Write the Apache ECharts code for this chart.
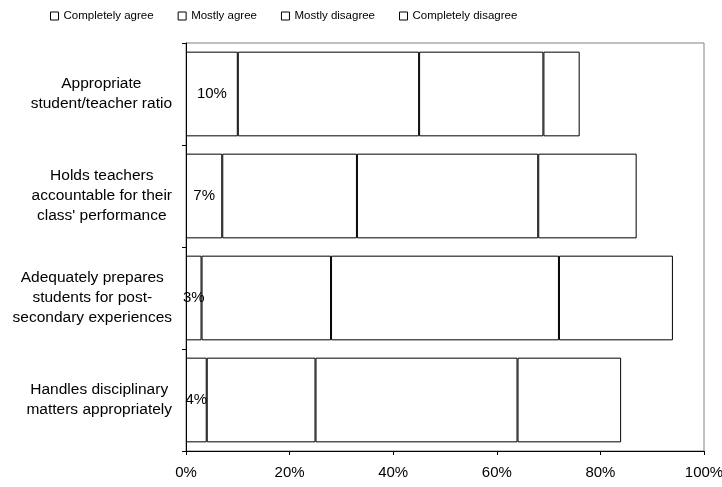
<!DOCTYPE html>
<html><head><meta charset="utf-8">
<script src="https://cdn.jsdelivr.net/npm/echarts@6/dist/echarts.min.js"></script>
<style>html,body{margin:0;padding:0;background:#fff}#c{width:722px;height:487px}</style>
</head><body><div id="c"></div>
<script>
const categories = [
  "Appropriate\nstudent/teacher ratio",
  "Holds teachers\naccountable for their\nclass' performance",
  "Adequately prepares\nstudents for post-\nsecondary experiences",
  "Handles disciplinary\nmatters appropriately"
];
const seriesNames = ["Completely agree", "Mostly agree", "Mostly disagree", "Completely disagree"];
const completelyAgree = [10, 7, 3, 4];
const mostlyAgree = [35, 26, 25, 21];
const mostlyDisagree = [24, 35, 44, 39];
const completelyDisagree = [7, 19, 22, 20];
const xTicks = [0, 20, 40, 60, 80, 100];

const FONT = "'Liberation Sans', Arial, sans-serif";
const seriesData = [completelyAgree, mostlyAgree, mostlyDisagree, completelyDisagree];

const chart = echarts.init(document.getElementById('c'), null, {renderer: 'canvas'});
chart.setOption({
  animation: false,
  backgroundColor: '#fff',
  textStyle: {fontFamily: FONT, color: '#000'},
  legend: {
    left: 50, top: 10, padding: 0,
    itemWidth: 8, itemHeight: 8, itemGap: 24,
    icon: 'rect',
    itemStyle: {color: '#fff', borderColor: '#000', borderWidth: 1},
    textStyle: {fontFamily: FONT, fontSize: 11.5, color: '#000'},
    data: seriesNames
  },
  grid: {
    left: 186, right: 18, top: 43, bottom: 36,
    show: true, borderColor: '#808080', borderWidth: 1, backgroundColor: 'transparent',
    containLabel: false,
    outerBoundsMode: 'none'
  },
  xAxis: {
    type: 'value',
    min: xTicks[0], max: xTicks[xTicks.length - 1], interval: xTicks[1] - xTicks[0],
    axisLine: {show: true, lineStyle: {color: '#000', width: 1}},
    axisTick: {show: true, length: 4, lineStyle: {color: '#000'}},
    splitLine: {show: false},
    axisLabel: {formatter: '{value}%', fontSize: 15, color: '#000', fontFamily: FONT, margin: 14}
  },
  yAxis: {
    type: 'category',
    inverse: true,
    data: categories,
    axisLine: {show: true, lineStyle: {color: '#000', width: 1}},
    axisTick: {show: true, length: 4, lineStyle: {color: '#000'}},
    axisLabel: {
      margin: 14,
      align: 'right',
      formatter: function (v) {
        return v.split('\n').map(function (s) { return '{c|' + s + '}'; }).join('\n');
      },
      rich: {c: {align: 'center', fontSize: 15.5, lineHeight: 20, color: '#000', fontFamily: FONT}}
    }
  },
  series: seriesNames.map(function (name, i) {
    return {
      name: name,
      type: 'bar',
      stack: 'total',
      barCategoryGap: '17%',
      data: seriesData[i],
      itemStyle: {color: '#fff', borderColor: '#000', borderWidth: 1},
      label: i === 0 ? {
        show: true, position: 'inside', formatter: '{c}%',
        fontSize: 15, color: '#000', fontFamily: FONT
      } : {show: false}
    };
  })
});
</script>
</body></html>
